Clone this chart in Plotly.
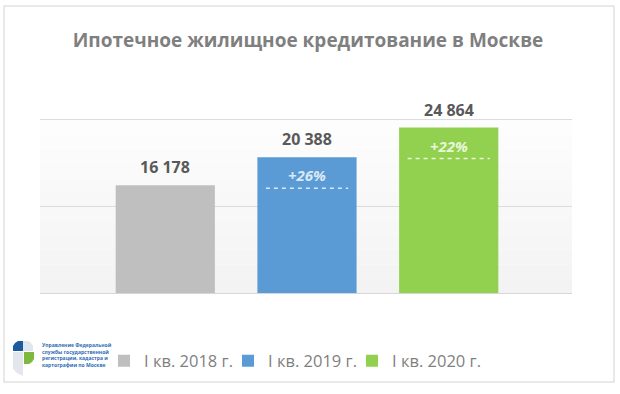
import plotly.graph_objects as go

# ---- data ----
categories = ["I кв. 2018 г.", "I кв. 2019 г.", "I кв. 2020 г."]
values = [16178, 20388, 24864]
growth_labels = ["", "+26%", "+22%"]
bar_colors = ["#bfbfbf", "#5b9bd5", "#92d050"]
growth_colors = ["#ffffff", "#dbe8f6", "#eaf6da"]
title_text = "Ипотечное жилищное кредитование в Москве"
logo_text = "Управление Федеральной<br>службы государственной<br>регистрации, кадастра и<br>картографии по Москве"

W, H = 620, 394
Y_TOP = 26000
Y_RANGE = 26400


def px(x, y):
    return x / W, 1 - y / H


fig = go.Figure()
for i, (c, v, col) in enumerate(zip(categories, values, bar_colors)):
    fig.add_trace(go.Bar(
        x=[c], y=[v], name=c, marker=dict(color=col, line=dict(width=0)),
        width=0.70, hoverinfo="skip",
        legendwidth=110 if i == len(categories) - 1 else None,
    ))

annotations = []
shapes = []

# value labels
for c, v in zip(categories, values):
    annotations.append(dict(
        x=c, y=v, xref="x", yref="y", text=f"{v:,}".replace(",", " "),
        showarrow=False, yanchor="bottom", yshift=5,
        font=dict(family="Open Sans", size=16, color="#595959", weight="bold"),
    ))

# growth labels + dashed lines
for i, (c, v, g, gc) in enumerate(zip(categories, values, growth_labels, growth_colors)):
    if not g:
        continue
    annotations.append(dict(
        x=c, y=v, xref="x", yref="y", text=g, showarrow=False,
        yanchor="middle", yshift=-18,
        font=dict(family="Open Sans", size=15, color=gc, weight="bold", style="italic"),
    ))
    shapes.append(dict(
        type="line", xref="x", yref="y", ysizemode="pixel", yanchor=v,
        x0=i - 0.29, x1=i + 0.29, y0=-31, y1=-31,
        line=dict(color=gc, width=1.5, dash="4px,4px"),
    ))

# plot-area soft gradient background (below the top gridline)
n = 12
for k in range(n):
    t = k / (n - 1)
    g = int(round(243 + (253 - 243) * t))
    shapes.append(dict(
        type="rect", xref="x domain", yref="y", layer="below",
        x0=0, x1=1, y0=Y_TOP * k / n, y1=Y_TOP * (k + 1) / n,
        fillcolor=f"rgb({g},{g},{g})", line=dict(width=0),
    ))

# card border
x0, y1 = px(4, 6)
x1, y0 = px(614, 382)
shapes.append(dict(type="rect", xref="paper", yref="paper", x0=x0, x1=x1, y0=y0, y1=y1,
                   line=dict(color="#e2e2e2", width=1.5), fillcolor="rgba(0,0,0,0)", layer="below"))


# logo emblem
def path(points):
    s = ""
    for j, (a, b) in enumerate(points):
        xx, yy = px(a, b)
        s += ("M" if j == 0 else "L") + f"{xx:.5f},{yy:.5f}"
    return s + "Z"


logo_parts = [
    ([(13, 351), (13, 346), (15, 343), (18, 341), (23, 341), (23, 351)], "#1e5aa0"),
    ([(23, 341), (28, 341), (31, 343), (33, 346), (33, 351), (23, 351)], "#dfe6ee"),
    ([(24, 352), (34, 352), (34, 359), (32, 362), (29, 364), (24, 364)], "#7cb93c"),
    ([(13, 352), (23, 352), (23, 376), (17, 373), (13, 369)], "#e3e7ec"),
]
for pts, col in logo_parts:
    shapes.append(dict(type="path", xref="paper", yref="paper", path=path(pts),
                       fillcolor=col, line=dict(width=0)))

lx, ly = px(40, 355)
annotations.append(dict(
    x=lx, y=ly, xref="paper", yref="paper", text=logo_text, showarrow=False,
    xanchor="left", yanchor="middle", align="left",
    font=dict(family="Open Sans", size=5, color="#2f6db3", weight="bold"),
))

tx, ty = px(308, 40)
top_px = 293 - 173 * Y_RANGE / Y_TOP
fig.update_layout(
    width=W, height=H,
    margin=dict(l=0, r=0, t=0, b=0, pad=0),
    paper_bgcolor="white", plot_bgcolor="white",
    barmode="overlay",
    title=dict(text=title_text, x=tx, y=ty, xanchor="center", yanchor="middle",
               xref="paper", yref="paper",
               font=dict(family="Open Sans", size=19, color="#7f7f7f", weight="bold")),
    xaxis=dict(domain=[40 / W, 572 / W], type="category", categoryorder="array",
               categoryarray=categories, range=[-0.884, 2.870],
               showticklabels=False, ticks="", showgrid=False, zeroline=False,
               showline=True, linecolor="#d6d6d6", linewidth=1, fixedrange=True),
    yaxis=dict(domain=[1 - 293 / H, 1 - top_px / H], range=[0, Y_RANGE],
               tickvals=[Y_TOP / 2, Y_TOP], showticklabels=False, ticks="",
               showgrid=True, gridcolor="#dcdcdc", gridwidth=1, zeroline=False,
               fixedrange=True),
    showlegend=True,
    legend=dict(orientation="h", x=104 / W, y=1 - 361 / H, xanchor="left", yanchor="middle",
                entrywidth=79, entrywidthmode="pixels", bgcolor="rgba(0,0,0,0)",
                font=dict(family="Open Sans", size=16.5, color="#7f7f7f")),
    annotations=annotations,
    shapes=shapes,
)

fig.write_html("out.html", config={"displayModeBar": False},
               post_script="document.body.style.margin='0';document.body.style.overflow='hidden';")
